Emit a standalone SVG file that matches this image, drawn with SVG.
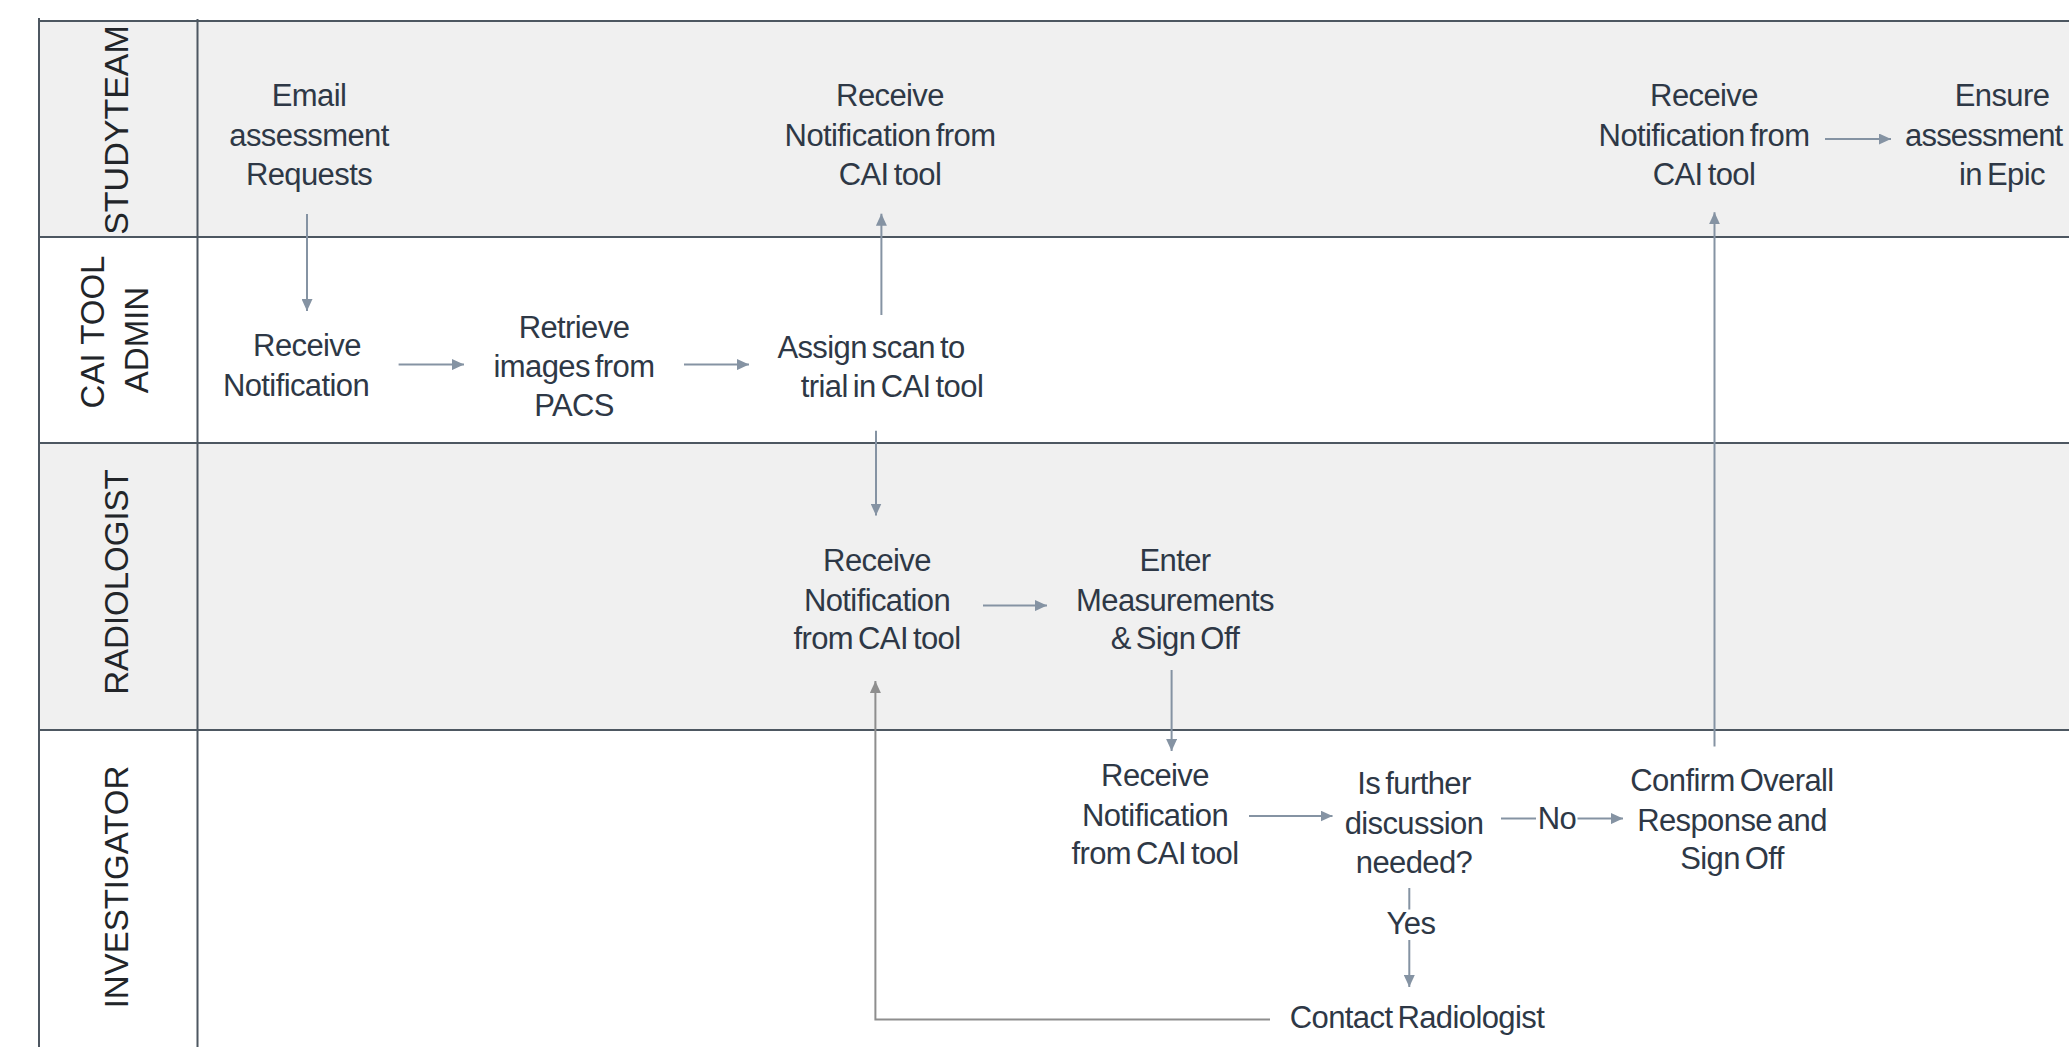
<svg xmlns="http://www.w3.org/2000/svg" width="2069" height="1047" viewBox="0 0 2069 1047">
<style>
.lane-shade{fill:#f0f0f0;}
.lane-white{fill:#ffffff;}
.grid{stroke:#4d5761;stroke-width:2;fill:none;}
.lbl{font-family:"Liberation Sans",Arial,sans-serif;font-size:33px;fill:#222529;text-anchor:middle;}
.t{font-family:"Liberation Sans",Arial,sans-serif;font-size:31px;fill:#2e3846;text-anchor:middle;letter-spacing:-0.6px;word-spacing:-3px;}
.c{stroke:#8593a3;stroke-width:2;fill:none;}
.cg{stroke:#8e8e8e;stroke-width:2;fill:none;}
</style>
<defs>
<marker id="ah" markerUnits="userSpaceOnUse" markerWidth="12" markerHeight="11" viewBox="0 0 12 11" refX="12" refY="5.5" orient="auto">
<path d="M0,0 L12,5.5 L0,11 z" fill="#8593a3"/>
</marker>
<marker id="ahg" markerUnits="userSpaceOnUse" markerWidth="12" markerHeight="11" viewBox="0 0 12 11" refX="12" refY="5.5" orient="auto">
<path d="M0,0 L12,5.5 L0,11 z" fill="#8e8e8e"/>
</marker>
</defs>
<rect x="0" y="0" width="2069" height="1047" fill="#ffffff"/>
<g id="lanes">
<rect class="lane-shade" x="39" y="21" width="2030" height="216"/>
<rect class="lane-white" x="39" y="237" width="2030" height="206"/>
<rect class="lane-shade" x="39" y="443" width="2030" height="287"/>
<rect class="lane-white" x="39" y="730" width="2030" height="317"/>
<path class="grid" d="M39,18 V1047 M197.5,19 V1047 M39,21 H2069 M39,237 H2069 M39,443 H2069 M39,730 H2069"/>
<text class="lbl" style="font-size:34px" transform="translate(127.5,130) rotate(-90)">STUDYTEAM</text>
<text class="lbl" transform="translate(103.5,332) rotate(-90)">CAI TOOL</text>
<text class="lbl" transform="translate(148,340) rotate(-90)">ADMIN</text>
<text class="lbl" transform="translate(127.5,582) rotate(-90)">RADIOLOGIST</text>
<text class="lbl" transform="translate(127.5,887) rotate(-90)">INVESTIGATOR</text>
</g>
<g id="connectors">
<path class="c" d="M307,214 V311" marker-end="url(#ah)"/>
<path class="c" d="M398.6,364.6 H464" marker-end="url(#ah)"/>
<path class="c" d="M684,364.6 H749" marker-end="url(#ah)"/>
<path class="c" d="M881.4,315 V213.7" marker-end="url(#ah)"/>
<path class="c" d="M876,430.7 V515.5" marker-end="url(#ah)"/>
<path class="c" d="M983,605.6 H1047" marker-end="url(#ah)"/>
<path class="c" d="M1171.6,670 V751" marker-end="url(#ah)"/>
<path class="c" d="M1249,816 H1332.5" marker-end="url(#ah)"/>
<path class="c" d="M1501,818.6 H1536"/>
<path class="c" d="M1577.5,818.6 H1623" marker-end="url(#ah)"/>
<path class="c" d="M1409.3,888 V909.5"/>
<path class="c" d="M1409.3,940 V987" marker-end="url(#ah)"/>
<path class="c" d="M1714.5,746.5 V212.3" marker-end="url(#ah)"/>
<path class="c" d="M1825,139 H1891" marker-end="url(#ah)"/>
<path class="cg" d="M1270,1019.6 H875.4 V681" marker-end="url(#ahg)"/>
<text class="t" x="1557" y="829">No</text>
<text class="t" x="1411" y="934">Yes</text>
</g>
<g id="n-email"><text class="t"><tspan x="309" y="106">Email</tspan><tspan x="309" y="145.5">assessment</tspan><tspan x="309" y="185">Requests</tspan></text></g>
<g id="n-receive-admin"><text class="t"><tspan x="307" y="356">Receive</tspan><tspan x="296" y="396">Notification</tspan></text></g>
<g id="n-retrieve"><text class="t"><tspan x="574" y="338">Retrieve</tspan><tspan x="574" y="377">images from</tspan><tspan x="574" y="416">PACS</tspan></text></g>
<g id="n-assign"><text class="t"><tspan x="871" y="358">Assign scan to</tspan><tspan x="892" y="397">trial in CAI tool</tspan></text></g>
<g id="n-receive-study1"><text class="t"><tspan x="890" y="106">Receive</tspan><tspan x="890" y="145.5">Notification from</tspan><tspan x="890" y="185">CAI tool</tspan></text></g>
<g id="n-receive-rad"><text class="t"><tspan x="877" y="571">Receive</tspan><tspan x="877" y="611">Notification</tspan><tspan x="877" y="649">from CAI tool</tspan></text></g>
<g id="n-enter"><text class="t"><tspan x="1175" y="571">Enter</tspan><tspan x="1175" y="611">Measurements</tspan><tspan x="1175" y="649">&amp; Sign Off</tspan></text></g>
<g id="n-receive-inv"><text class="t"><tspan x="1155" y="786">Receive</tspan><tspan x="1155" y="826">Notification</tspan><tspan x="1155" y="864">from CAI tool</tspan></text></g>
<g id="n-decision"><text class="t"><tspan x="1414" y="794">Is further</tspan><tspan x="1414" y="834">discussion</tspan><tspan x="1414" y="873">needed?</tspan></text></g>
<g id="n-confirm"><text class="t"><tspan x="1732" y="791">Confirm Overall</tspan><tspan x="1732" y="831">Response and</tspan><tspan x="1732" y="869">Sign Off</tspan></text></g>
<g id="n-receive-study2"><text class="t"><tspan x="1704" y="106">Receive</tspan><tspan x="1704" y="145.5">Notification from</tspan><tspan x="1704" y="185">CAI tool</tspan></text></g>
<g id="n-ensure"><text class="t"><tspan x="2002" y="106">Ensure</tspan><tspan x="1905" y="145.5" text-anchor="start" letter-spacing="-0.8">assessment</tspan><tspan x="2002" y="185">in Epic</tspan></text></g>
<g id="n-contact"><text class="t"><tspan x="1417" y="1028">Contact Radiologist</tspan></text></g>
</svg>
